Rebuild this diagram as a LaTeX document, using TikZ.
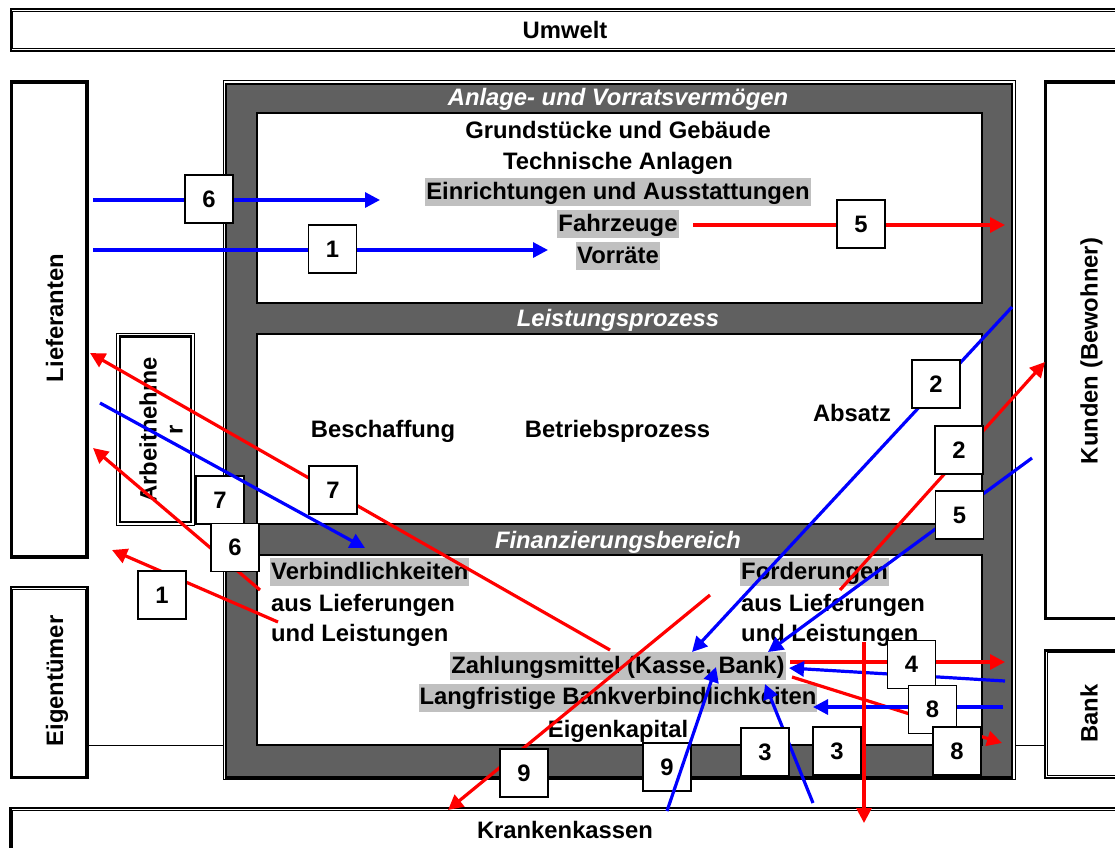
\documentclass[tikz,border=0pt]{standalone}
\usepackage{fontspec}
\setmainfont{Liberation Sans}
\usetikzlibrary{arrows.meta}
\definecolor{frameg}{HTML}{606060}
\definecolor{hlg}{HTML}{C0C0C0}
\definecolor{fblue}{HTML}{0000FF}
\definecolor{fred}{HTML}{FF0000}
\begin{document}
\begin{tikzpicture}[x=1pt,y=-1pt,
  entbox/.style={draw=black, line width=2.3pt, fill=white, inner sep=0pt, anchor=north west},
  thinout/.style={draw=black, line width=1pt, fill=white, inner sep=0pt, anchor=north west},
  thinln/.style={draw=black, line width=1pt},
  thickln/.style={draw=black, line width=2.3pt},
  whitebox/.style={draw=black, line width=1.7pt, fill=white, inner sep=0pt, anchor=north west, minimum width=725pt, minimum height=190pt},
  lbl/.style={font=\fontsize{23.8}{28}\selectfont\bfseries, text height=19.3pt, text depth=4.7pt, inner xsep=1pt, inner ysep=2pt},
  hl/.style={lbl, fill=hlg},
  ttl/.style={lbl, text=white, font=\fontsize{23.8}{28}\selectfont\bfseries\itshape},
  rlbl/.style={font=\fontsize{23.8}{26}\selectfont\bfseries, inner sep=0pt, rotate=90},
  numbox/.style={draw=black, line width=1.6pt, fill=white, minimum size=48pt, inner sep=0pt, font=\fontsize{23.8}{28}\selectfont\bfseries},
  flow/.style={line width=3.2pt, -{Triangle[length=15pt,width=15pt]}},
  bflow/.style={flow, draw=fblue, fill=fblue},
  rflow/.style={flow, draw=fred, fill=fred},
  link/.style={draw=black, line width=1.5pt}
]
\useasboundingbox (0,0) rectangle (1115,847);
\clip (0,0) rectangle (1115,847);

% ---------- external entities (thick-thin double border)
\node[entbox, minimum width=1120.5pt, minimum height=41.8pt] (umw) at (9.5,7.7) {};
\draw[thinln] ([shift={(3.3,3.3)}]umw.north west) rectangle ([shift={(-3.3,-3.3)}]umw.south east);
\node[entbox, minimum width=76.8pt, minimum height=476pt] (lief) at (9.5,80.3) {};
\draw[thinln] ([shift={(3.3,3.3)}]lief.north west) rectangle ([shift={(-3.3,-3.3)}]lief.south east);
\node[entbox, minimum width=76.8pt, minimum height=191pt] (eig) at (9.5,586) {};
\draw[thinln] ([shift={(3.3,3.3)}]eig.north west) rectangle ([shift={(-3.3,-3.3)}]eig.south east);
\node[entbox, minimum width=100pt, minimum height=537.7pt] (kund) at (1043.5,80.3) {};
\draw[thinln] ([shift={(3.3,3.3)}]kund.north west) rectangle ([shift={(-3.3,-3.3)}]kund.south east);
\node[entbox, minimum width=100pt, minimum height=127.4pt] (bank) at (1043.7,649.3) {};
\draw[thinln] ([shift={(3.3,3.3)}]bank.north west) rectangle ([shift={(-3.3,-3.3)}]bank.south east);
\node[entbox, minimum width=1130pt, minimum height=60pt] (krank) at (9.3,806.7) {};
\draw[thinln] ([shift={(3.3,3.3)}]krank.north west) rectangle ([shift={(-3.3,-3.3)}]krank.south east);

% ---------- Arbeitnehmer (thin-thick)
\node[thinout, minimum width=77.6pt, minimum height=191.9pt] (arb) at (116.2,332.8) {};
\draw[thickln] ([shift={(3.7,3.7)}]arb.north west) rectangle ([shift={(-3.7,-3.7)}]arb.south east);

% ---------- main frame
\node[thinout, minimum width=792pt, minimum height=699pt] (frame) at (222.5,80) {};
\draw[thickln, fill=frameg] ([shift={(3.7,3.7)}]frame.north west) rectangle ([shift={(-3.7,-2.5)}]frame.south east);
\node[whitebox] (anl) at (256,112) {};
\node[whitebox] (leist) at (256,333) {};
\node[whitebox] (fin) at (256,554) {};

% ---------- plain connecting lines
\draw[link] (eig.east |- fin.south) -- (frame.west |- fin.south);
\draw[link] (frame.east |- fin.south) -- (bank.west |- fin.south);

% ---------- texts
\node[lbl] (tumw) at (565,30.7) {Umwelt};
\node[lbl] (tkrank) at (565,830.7) {Krankenkassen};
\node[rlbl, anchor=base] (tlief) at (63,318) {Lieferanten};
\node[rlbl, anchor=base] (teig) at (63,681) {Eigentümer};
\node[rlbl, anchor=base] (tkund) at (1097.5,351) {Kunden (Bewohner)};
\node[rlbl, anchor=base] (tbank) at (1097.5,713.5) {Bank};
\node[rlbl, align=center] (tarb) at (161,430) {Arbeitnehme\\r};

\node[ttl] (t1) at (618,97.7) {Anlage- und Vorratsvermögen};
\node[ttl] (t2) at (618,319) {Leistungsprozess};
\node[ttl] (t3) at (618,541) {Finanzierungsbereich};

\node[lbl] (grund) at (618,130.7) {Grundstücke und Gebäude};
\node[lbl] (tech) at (618,162) {Technische Anlagen};
\node[hl] (einr) at (618,192) {Einrichtungen und Ausstattungen};
\node[hl] (fahr) at (618,224) {Fahrzeuge};
\node[hl] (vorr) at (618,256) {Vorräte};

\node[lbl] (besch) at (383,430) {Beschaffung};
\node[lbl] (betr) at (617.5,430) {Betriebsprozess};
\node[lbl] (abs) at (852,414) {Absatz};

\node[hl, anchor=west] (verb) at (270,572) {Verbindlichkeiten};
\node[lbl, anchor=west] (aus1) at (270,604.4) {aus Lieferungen};
\node[lbl, anchor=west] (und1) at (270,634.4) {und Leistungen};
\node[hl, anchor=west] (ford) at (740,572) {Forderungen};
\node[lbl, anchor=west] (aus2) at (740,604.4) {aus Lieferungen};
\node[lbl, anchor=west] (und2) at (740,634.4) {und Leistungen};
\node[hl] (zahl) at (618,666) {Zahlungsmittel (Kasse, Bank)};
\node[hl] (lang) at (618,697.5) {Langfristige Bankverbindlichkeiten};
\node[lbl] (eigk) at (618,729.7) {Eigenkapital};

% ---------- arrow end points
\coordinate (a6s) at (93,200);    \coordinate (a6e) at (380,200);
\coordinate (a1s) at (93,250);    \coordinate (a1e) at (548,250);
\coordinate (a5s) at (693,225);   \coordinate (a5e) at (1005,225);
\coordinate (b2s) at (1012,307);  \coordinate (b2e) at (692,652);
\coordinate (r2s) at (840,590);   \coordinate (r2e) at (1045,362);
\coordinate (b5s) at (1032,458);  \coordinate (b5e) at (768,652);
\coordinate (r7s) at (610,650);   \coordinate (r7e) at (90,353);
\coordinate (bas) at (100,403);   \coordinate (bae) at (365,548);
\coordinate (r6s) at (260,590);   \coordinate (r6e) at (93,448);
\coordinate (r1s) at (278,622);   \coordinate (r1e) at (112,550);
\coordinate (r9s) at (710,595);   \coordinate (r9e) at (448,810);
\coordinate (r4s) at (790,662);   \coordinate (r4e) at (1005,662);
\coordinate (b4s) at (1005,681);  \coordinate (b4e) at (789,668);
\coordinate (r8s) at (792,677);   \coordinate (r8e) at (1002,743);
\coordinate (b8s) at (1003,707);  \coordinate (b8e) at (813,707);
\coordinate (b3s) at (813,803);   \coordinate (b3e) at (765,684);
\coordinate (b9s) at (667,811);   \coordinate (b9e) at (716,667);
\coordinate (rvs) at (864,642);   \coordinate (rve) at (864,823);

% ---------- arrows under the number boxes
\draw[bflow] (a6s) -- (a6e);
\draw[bflow] (a1s) -- (a1e);
\draw[rflow] (a5s) -- (a5e);
\draw[bflow] (b2s) -- (b2e);
\draw[rflow] (r2s) -- (r2e);
\draw[bflow] (b5s) -- (b5e);
\draw[rflow] (r7s) -- (r7e);
\draw[rflow] (r6s) -- (r6e);
\draw[rflow] (r1s) -- (r1e);
\draw[rflow] (r9s) -- (r9e);
\draw[rflow] (r4s) -- (r4e);
\draw[bflow] (b4s) -- (b4e);
\draw[rflow] (r8s) -- (r8e);
\draw[bflow] (b8s) -- (b8e);
\draw[bflow] (b3s) -- (b3e);
\draw[rflow] (rvs) -- (rve);

% ---------- number boxes
\node[numbox] (n6a) at (209,199) {6};
\node[numbox] (n1a) at (332.5,249) {1};
\node[numbox] (n5a) at (861,224) {5};
\node[numbox] (n2a) at (936,384) {2};
\node[numbox] (n2b) at (959,450) {2};
\node[numbox] (n5b) at (959.5,515) {5};
\node[numbox] (n7a) at (220,500) {7};
\node[numbox] (n7b) at (333,490) {7};
\node[numbox] (n6b) at (235,547.5) {6};
\node[numbox] (n1b) at (162,595) {1};
\node[numbox] (n4) at (911.5,664.5) {4};
\node[numbox] (n8a) at (932.5,709.5) {8};
\node[numbox] (n3a) at (765,752) {3};
\node[numbox] (n3b) at (837,751) {3};
\node[numbox] (n8b) at (957,751) {8};
\node[numbox] (n9a) at (524,773) {9};
\node[numbox] (n9b) at (667,767) {9};

% ---------- arrows over the number boxes
\draw[bflow] (bas) -- (bae);
\draw[bflow] (b9s) -- (b9e);
\end{tikzpicture}
\end{document}
